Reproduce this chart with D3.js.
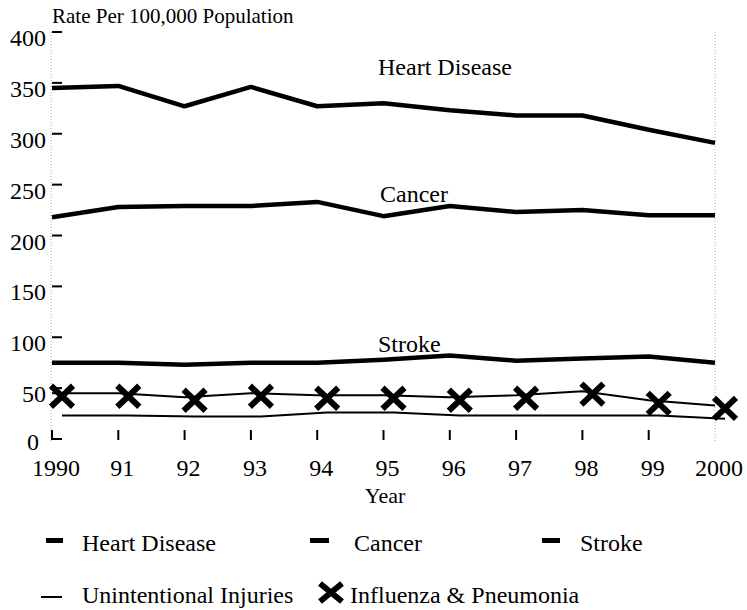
<!DOCTYPE html>
<html>
<head>
<meta charset="utf-8">
<script src="https://cdn.jsdelivr.net/npm/d3@7"></script>
</head>
<body style="margin:0">
<svg id="chart" width="747" height="610"></svg>
<script>
const years = [1990, 1991, 1992, 1993, 1994, 1995, 1996, 1997, 1998, 1999, 2000];
const yearLabels = ["1990", "91", "92", "93", "94", "95", "96", "97", "98", "99", "2000"];
const yTicks = [0, 50, 100, 150, 200, 250, 300, 350, 400];

const heartDisease = [345, 347, 327, 346, 327, 330, 323, 318, 318, 304, 291];
const cancer       = [218, 228, 229, 229, 233, 219, 229, 223, 225, 220, 220];
const stroke       = [75, 75, 73, 75, 75, 78, 82, 77, 79, 81, 75];
const influenza    = [45, 45, 41, 45, 43, 43, 41, 43, 47, 38, 33];
const injuries     = [23, 23, 22, 22, 26, 26, 23, 23, 23, 23, 20];

const seriesNames = ["Heart Disease", "Cancer", "Stroke", "Unintentional Injuries", "Influenza & Pneumonia"];

const svg = d3.select("#chart");
const x = d3.scaleLinear().domain([1990, 2000]).range([52, 715]);
const y = d3.scaleLinear().domain([0, 400]).range([439, 32]);

function txt(xp, yp, s, size, anchor) {
  return svg.append("text")
    .attr("x", xp).attr("y", yp)
    .style("font-family", '"Liberation Serif", "Times New Roman", serif')
    .style("font-size", size + "px")
    .style("text-anchor", anchor || "start")
    .text(s);
}

// dotted frame lines
[1990, 2000].forEach(v => {
  const xp = x(v) - (v === 1990 ? 1 : 0);
  svg.append("line")
    .attr("x1", xp).attr("x2", xp)
    .attr("y1", y(400)).attr("y2", y(0) + 2)
    .attr("stroke", "#aaa").attr("stroke-width", 1)
    .attr("stroke-dasharray", "1,2");
});

// y ticks (short dashes)
svg.selectAll(".ytick").data(yTicks).enter().append("line")
  .attr("x1", x(1990)).attr("x2", x(1990) + 10)
  .attr("y1", d => y(d)).attr("y2", d => y(d))
  .attr("stroke", "#000").attr("stroke-width", 2);

yTicks.forEach(d => txt(d === 0 ? 39 : 46, y(d) + (d === 0 ? 11 : 14), String(d), 24, "end"));

// x ticks
svg.selectAll(".xtick").data(years.slice(0, 10)).enter().append("line")
  .attr("x1", d => x(d)).attr("x2", d => x(d))
  .attr("y1", y(0) - 9).attr("y2", y(0) + 1)
  .attr("stroke", "#000").attr("stroke-width", 2);

years.forEach((d, i) => txt(x(d) + 4, 476, yearLabels[i], 24, "middle"));

txt(385, 503, "Year", 22, "middle");
txt(52, 23, "Rate Per 100,000 Population", 21);

const line = d3.line().x((d, i) => x(years[i])).y(d => y(d));

// thick lines
[heartDisease, cancer, stroke].forEach(s => {
  svg.append("path").datum(s).attr("d", line)
    .attr("fill", "none").attr("stroke", "#000")
    .attr("stroke-width", 4.5).attr("stroke-linejoin", "round");
});

// injuries (thin, offset)
svg.append("path").datum(injuries).attr("d", line)
  .attr("transform", "translate(10,0)")
  .attr("fill", "none").attr("stroke", "#000").attr("stroke-width", 2);

// influenza line
svg.append("path").datum(influenza).attr("d", line)
  .attr("fill", "none").attr("stroke", "#000").attr("stroke-width", 2);

function xMark(cx, cy, w, h, sw) {
  svg.append("path")
    .attr("d", `M${cx - w/2},${cy - h/2}L${cx + w/2},${cy + h/2}M${cx - w/2},${cy + h/2}L${cx + w/2},${cy - h/2}`)
    .attr("stroke", "#000").attr("stroke-width", sw).attr("fill", "none");
}
influenza.forEach((v, i) => xMark(x(years[i]) + 10, y(v) + 3, 22, 21, 6));

// series labels
txt(378, 75, seriesNames[0], 24);
txt(380, 202, seriesNames[1], 24);
txt(378, 352, seriesNames[2], 24);

// legend
const legendThick = [
  { name: seriesNames[0], x0: 46, x1: 63, tx: 82 },
  { name: seriesNames[1], x0: 310, x1: 329, tx: 354 },
  { name: seriesNames[2], x0: 542, x1: 560, tx: 580 }
];
legendThick.forEach(l => {
  svg.append("rect").attr("x", l.x0).attr("y", 538).attr("width", l.x1 - l.x0).attr("height", 5).attr("fill", "#000");
  txt(l.tx, 551, l.name, 24);
});
svg.append("line").attr("x1", 41).attr("x2", 62).attr("y1", 597).attr("y2", 597)
  .attr("stroke", "#000").attr("stroke-width", 2);
txt(82, 603, seriesNames[3], 24);
xMark(331, 592.5, 22, 18, 6);
txt(350, 603, seriesNames[4], 24);
</script>
</body>
</html>
